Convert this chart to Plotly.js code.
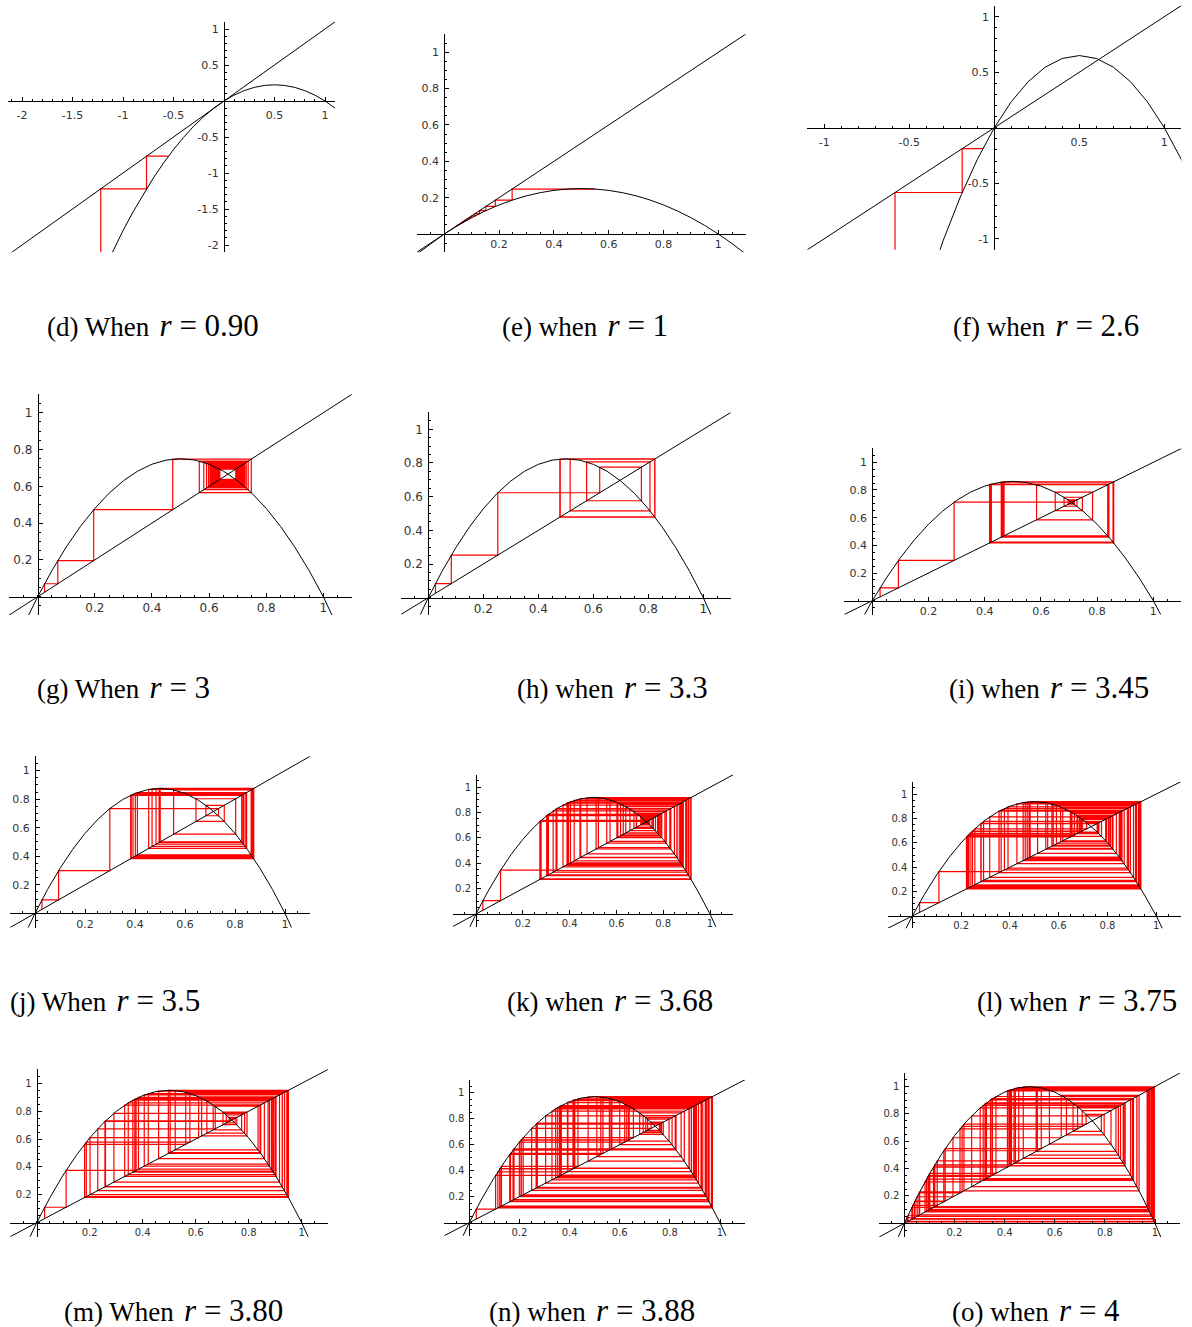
<!DOCTYPE html>
<html>
<head>
<meta charset="utf-8">
<script src="https://cdn.plot.ly/plotly-3.0.1.min.js"></script>
<style>
  html, body { margin: 0; padding: 0; background: #fff; }
  #chart { width: 1192px; height: 1327px; }
</style>
</head>
<body>
<div id="chart"></div>
<script>
// ─────────────────────────────
// DATOS
// ─────────────────────────────
const captionLetters = ['d', 'e', 'f', 'g', 'h', 'i', 'j', 'k', 'l', 'm', 'n', 'o'];
const captionWords = ['When', 'when', 'when', 'When', 'when', 'when', 'When', 'when', 'when', 'When', 'when', 'when'];
const rLabels = ['0.90', '1', '2.6', '3', '3.3', '3.45', '3.5', '3.68', '3.75', '3.80', '3.88', '4'];

// tick labels
const ticksWide = [-2, -1.5, -1, -0.5, 0.5, 1];
const ticksWideText = ['-2', '-1.5', '-1', '-0.5', '0.5', '1'];
const ticksMid = [-1, -0.5, 0.5, 1];
const ticksMidText = ['-1', '-0.5', '0.5', '1'];
const ticksUnit = [0.2, 0.4, 0.6, 0.8, 1];
const ticksUnitText = ['0.2', '0.4', '0.6', '0.8', '1'];

// the line y = x
const diagonal = [-3, 3];

// parabola samples
const gridD = [-1.2, -1.1, -1, -0.9, -0.8, -0.7, -0.6, -0.5, -0.4, -0.3, -0.2, -0.1, 0,
  0.1, 0.2, 0.3, 0.4, 0.5, 0.6, 0.7, 0.8, 0.9, 1, 1.1, 1.2];
const curveD = [-2.376, -2.079, -1.8, -1.539, -1.296, -1.071, -0.864, -0.675, -0.504, -0.351, -0.216, -0.099, 0,
  0.081, 0.144, 0.189, 0.216, 0.225, 0.216, 0.189, 0.144, 0.081, 0, -0.099, -0.216];

const gridF = [-0.4, -0.3, -0.2, -0.1, 0, 0.1, 0.2, 0.3, 0.4, 0.5, 0.6, 0.7, 0.8, 0.9, 1, 1.1, 1.2];
const curveF = [-1.456, -1.014, -0.624, -0.286, 0, 0.234, 0.416, 0.546, 0.624, 0.65, 0.624, 0.546, 0.416, 0.234, 0, -0.286, -0.624];

const gridUnit = [-0.1, -0.05, 0, 0.05, 0.1, 0.15, 0.2, 0.25, 0.3, 0.35, 0.4, 0.45, 0.5,
  0.55, 0.6, 0.65, 0.7, 0.75, 0.8, 0.85, 0.9, 0.95, 1, 1.05, 1.1];
const curveE = [-0.11, -0.0525, 0, 0.0475, 0.09, 0.1275, 0.16, 0.1875, 0.21, 0.2275, 0.24, 0.2475, 0.25,
  0.2475, 0.24, 0.2275, 0.21, 0.1875, 0.16, 0.1275, 0.09, 0.0475, 0, -0.0525, -0.11];
const curveG = [-0.33, -0.1575, 0, 0.1425, 0.27, 0.3825, 0.48, 0.5625, 0.63, 0.6825, 0.72, 0.7425, 0.75,
  0.7425, 0.72, 0.6825, 0.63, 0.5625, 0.48, 0.3825, 0.27, 0.1425, 0, -0.1575, -0.33];
const curveH = [-0.363, -0.1733, 0, 0.1568, 0.297, 0.4208, 0.528, 0.6188, 0.693, 0.7508, 0.792, 0.8168, 0.825,
  0.8168, 0.792, 0.7508, 0.693, 0.6188, 0.528, 0.4208, 0.297, 0.1568, 0, -0.1733, -0.363];
const curveI = [-0.3795, -0.1811, 0, 0.1639, 0.3105, 0.4399, 0.552, 0.6469, 0.7245, 0.7849, 0.828, 0.8539, 0.8625,
  0.8539, 0.828, 0.7849, 0.7245, 0.6469, 0.552, 0.4399, 0.3105, 0.1639, 0, -0.1811, -0.3795];
const curveJ = [-0.385, -0.1838, 0, 0.1663, 0.315, 0.4463, 0.56, 0.6563, 0.735, 0.7963, 0.84, 0.8663, 0.875,
  0.8663, 0.84, 0.7963, 0.735, 0.6563, 0.56, 0.4463, 0.315, 0.1663, 0, -0.1838, -0.385];
const curveK = [-0.4048, -0.1932, 0, 0.1748, 0.3312, 0.4692, 0.5888, 0.69, 0.7728, 0.8372, 0.8832, 0.9108, 0.92,
  0.9108, 0.8832, 0.8372, 0.7728, 0.69, 0.5888, 0.4692, 0.3312, 0.1748, 0, -0.1932, -0.4048];
const curveL = [-0.4125, -0.1969, 0, 0.1781, 0.3375, 0.4781, 0.6, 0.7031, 0.7875, 0.8531, 0.9, 0.9281, 0.9375,
  0.9281, 0.9, 0.8531, 0.7875, 0.7031, 0.6, 0.4781, 0.3375, 0.1781, 0, -0.1969, -0.4125];
const curveM = [-0.418, -0.1995, 0, 0.1805, 0.342, 0.4845, 0.608, 0.7125, 0.798, 0.8645, 0.912, 0.9405, 0.95,
  0.9405, 0.912, 0.8645, 0.798, 0.7125, 0.608, 0.4845, 0.342, 0.1805, 0, -0.1995, -0.418];
const curveN = [-0.4268, -0.2037, 0, 0.1843, 0.3492, 0.4947, 0.6208, 0.7275, 0.8148, 0.8827, 0.9312, 0.9603, 0.97,
  0.9603, 0.9312, 0.8827, 0.8148, 0.7275, 0.6208, 0.4947, 0.3492, 0.1843, 0, -0.2037, -0.4268];
const curveO = [-0.44, -0.21, 0, 0.19, 0.36, 0.51, 0.64, 0.75, 0.84, 0.91, 0.96, 0.99, 1,
  0.99, 0.96, 0.91, 0.84, 0.75, 0.64, 0.51, 0.36, 0.19, 0, -0.21, -0.44];

// iterates drawn in red
const orbitD = [-0.55, -0.767, -1.2198, -2.437];
const orbitE = [0.55, 0.2475, 0.1862, 0.1515, 0.1285, 0.112, 0.0995, 0.0896, 0.0816, 0.0749, 0.0693,
  0.0645, 0.0603, 0.0567, 0.0535, 0.0506, 0.048, 0.0457, 0.0436, 0.0417, 0.04];
const orbitF = [-0.068, -0.189, -0.584, -2.405];
const orbitG = [0.024, 0.0703, 0.196, 0.4728, 0.7478, 0.5659, 0.737, 0.5816, 0.7301, 0.5912, 0.7251,
  0.5981, 0.7212, 0.6033, 0.718, 0.6075, 0.7154, 0.6109, 0.7132, 0.6137, 0.7113, 0.6161, 0.7096,
  0.6183, 0.7081, 0.6202, 0.7067, 0.6219, 0.7055, 0.6234, 0.7044, 0.6247, 0.7034, 0.626, 0.7024,
  0.6272, 0.7015, 0.6283, 0.7007, 0.6292, 0.7, 0.6301, 0.6993, 0.6309, 0.6987, 0.6316, 0.6981,
  0.6323, 0.6975, 0.6331, 0.6969, 0.6338, 0.6964, 0.6344, 0.6959, 0.6349, 0.6955, 0.6354, 0.6951,
  0.6359, 0.6947, 0.6363, 0.6943, 0.6368, 0.6939, 0.6373, 0.6935, 0.6377, 0.6932];
const orbitH = [0.026, 0.0836, 0.2527, 0.6233, 0.7749, 0.5757, 0.8061, 0.5158, 0.8242, 0.4782, 0.8234,
  0.4798, 0.8237, 0.4793, 0.8236, 0.4794, 0.8236, 0.4794, 0.8236, 0.4794, 0.8236, 0.4794, 0.8236];
const orbitI = [0.0277, 0.093, 0.2911, 0.7121, 0.7072, 0.7143, 0.704, 0.7189, 0.6972, 0.7284, 0.6825,
  0.7476, 0.651, 0.7838, 0.5846, 0.8378, 0.4689, 0.8592, 0.4175, 0.839, 0.466, 0.8585, 0.4191,
  0.8399, 0.464, 0.858, 0.4203, 0.8406, 0.4623, 0.8576, 0.4213, 0.8412, 0.461, 0.8572, 0.4222,
  0.8416, 0.4599, 0.857, 0.4229, 0.842, 0.4589, 0.8567, 0.4236, 0.8424];
const orbitJ = [0.0277, 0.0944, 0.2992, 0.7339, 0.6836, 0.757, 0.6438, 0.8026, 0.5545, 0.8646, 0.4097,
  0.8465, 0.4548, 0.8679, 0.4013, 0.8409, 0.4683, 0.8715, 0.392, 0.8342, 0.4841, 0.8741, 0.3852,
  0.8289, 0.4964, 0.875, 0.3828, 0.8269, 0.5009, 0.875, 0.3828, 0.8269, 0.5009, 0.875];
const orbitK = [0.0294, 0.105, 0.3458, 0.8325, 0.5132, 0.9194, 0.2728, 0.73, 0.7253, 0.7333, 0.7197,
  0.7423, 0.7039, 0.767, 0.6577, 0.8285, 0.5229, 0.9181, 0.2769, 0.7368, 0.7137, 0.7519, 0.6864,
  0.7921, 0.6061, 0.8786, 0.3925, 0.8775, 0.3956, 0.8799, 0.3888, 0.8745, 0.4038, 0.886, 0.3718,
  0.8595, 0.4443, 0.9086, 0.3057, 0.781, 0.6294, 0.8584, 0.4473, 0.9098, 0.3021, 0.7759, 0.64,
  0.8479, 0.4746, 0.9176, 0.2782, 0.739, 0.7098, 0.758, 0.6751, 0.8072, 0.5728, 0.9005, 0.3297,
  0.8133, 0.5587, 0.9073, 0.3095, 0.7865, 0.618, 0.8687, 0.4197, 0.8962, 0.3422, 0.8284, 0.5231,
  0.918, 0.277, 0.737, 0.7133, 0.7526, 0.6851, 0.7939, 0.6022, 0.8815, 0.3843];
const orbitL = [0.03, 0.109, 0.3642, 0.8684, 0.4287, 0.9184, 0.281, 0.7576, 0.6886, 0.8042, 0.5906,
  0.9067, 0.3172, 0.8122, 0.5721, 0.918, 0.2823, 0.7597, 0.6846, 0.8098, 0.5777, 0.9149, 0.2921,
  0.7755, 0.653, 0.8497, 0.4788, 0.9358, 0.2252, 0.6544, 0.8481, 0.4831, 0.9364, 0.2233, 0.6503,
  0.8527, 0.4709, 0.9343, 0.2301, 0.6643, 0.8363, 0.5135, 0.9368, 0.222, 0.6476, 0.8558, 0.4628,
  0.9323, 0.2367, 0.6774, 0.8194, 0.5548, 0.9262, 0.2563, 0.7147, 0.7646, 0.675, 0.8227, 0.547,
  0.9292, 0.2466, 0.6967, 0.7925, 0.6167, 0.8864, 0.3776, 0.8813, 0.3923, 0.894, 0.3553, 0.8589,
  0.4544, 0.9297, 0.2451, 0.6939, 0.7965, 0.6079, 0.8939, 0.3557, 0.8594, 0.453];
const orbitM = [0.0301, 0.111, 0.375, 0.8906, 0.3702, 0.8859, 0.384, 0.8989, 0.3454, 0.8591, 0.4599,
  0.9439, 0.2013, 0.6109, 0.9033, 0.332, 0.8428, 0.5035, 0.95, 0.1807, 0.5624, 0.9352, 0.2304,
  0.6737, 0.8354, 0.5227, 0.9481, 0.1871, 0.578, 0.9269, 0.2575, 0.7265, 0.755, 0.7029, 0.7936,
  0.6224, 0.8931, 0.3628, 0.8784, 0.4059, 0.9163, 0.2914, 0.7846, 0.6422, 0.8731, 0.4209, 0.9263,
  0.2596, 0.7304, 0.7484, 0.7156, 0.7734, 0.666, 0.8454, 0.4968, 0.95];
const orbitN = [0.0278, 0.105, 0.3646, 0.8989, 0.3527, 0.8858, 0.3926, 0.9252, 0.2684, 0.7619, 0.7038,
  0.8088, 0.6, 0.9312, 0.2487, 0.725, 0.7736, 0.6796, 0.8449, 0.5086, 0.9697, 0.1139, 0.3916,
  0.9244, 0.2713, 0.767, 0.6935, 0.8248, 0.5608, 0.9557, 0.1644, 0.5329, 0.9658, 0.1281, 0.4334,
  0.9528, 0.1745, 0.5588, 0.9566, 0.1612, 0.5245, 0.9677, 0.1214, 0.4138, 0.9412, 0.2149, 0.6546,
  0.8773, 0.4176, 0.9437, 0.2063, 0.6354, 0.899, 0.3525, 0.8855, 0.3933, 0.9259, 0.2664, 0.7582,
  0.7113, 0.7968, 0.6282, 0.9062, 0.3298, 0.8576, 0.4739, 0.9674, 0.1225, 0.4171, 0.9434, 0.2074,
  0.6377, 0.8964, 0.3602, 0.8942, 0.3671, 0.9015, 0.3446, 0.8763, 0.4207, 0.9456, 0.1996, 0.62,
  0.9142, 0.3044, 0.8216, 0.5686, 0.9517, 0.1783, 0.5683, 0.9519, 0.1777, 0.567, 0.9526, 0.1753,
  0.5608, 0.9556, 0.1645, 0.5332, 0.9657, 0.1284];
const orbitO = [0.03, 0.1164, 0.4114, 0.9686, 0.1217, 0.4274, 0.9789, 0.0825, 0.3027, 0.8443, 0.526,
  0.9973, 0.0108, 0.0426, 0.1632, 0.5463, 0.9914, 0.034, 0.1313, 0.4564, 0.9924, 0.0302, 0.117,
  0.4134, 0.97, 0.1165, 0.4117, 0.9688, 0.1208, 0.4247, 0.9773, 0.0887, 0.3232, 0.875, 0.4376,
  0.9844, 0.0614, 0.2305, 0.7095, 0.8245, 0.5788, 0.9752, 0.0969, 0.35, 0.91, 0.3276, 0.8811,
  0.4192, 0.9739, 0.1017, 0.3655, 0.9276, 0.2686, 0.7859, 0.6731, 0.8801, 0.422, 0.9757, 0.095,
  0.344, 0.9027, 0.3515, 0.9117, 0.3219, 0.8731, 0.4431, 0.987, 0.0512, 0.1942, 0.626, 0.9365,
  0.2379, 0.7252, 0.7972, 0.6467, 0.914, 0.3146, 0.8625, 0.4745, 0.9974, 0.0104, 0.0411, 0.1575,
  0.5307, 0.9962, 0.015, 0.059, 0.2222, 0.6912, 0.8538, 0.4994];


// ─────────────────────────────
// PANELES (geometría en px de la página)
// ─────────────────────────────
const W = 1192, H = 1327;
const unitRange = [-0.1, 1.1];

const panels = [
  { orbit: orbitD, gx: gridD, gy: curveD, diag0: false, tv: ticksWide, tt: ticksWideText, minor: 0.1,
    x0: 224, xs: 101, y0: 101, ys: 72, xr: [-2.14, 1.1], yr: [-2.1, 1.1], fs: 11, xso: 4, cap: [45, 326] },
  { orbit: orbitE, gx: gridUnit, gy: curveE, diag0: false, tv: ticksUnit, tt: ticksUnitText, minor: 0.05,
    x0: 444.3, xs: 274, y0: 234, ys: 181.7, xr: unitRange, yr: unitRange, fs: 11, xso: 0, cap: [500, 326] },
  { orbit: orbitF, gx: gridF, gy: curveF, diag0: false, tv: ticksMid, tt: ticksMidText, minor: 0.1,
    x0: 994.3, xs: 170, y0: 127.7, ys: 111, xr: [-1.1, 1.1], yr: [-1.1, 1.1], fs: 11, xso: 4, cap: [951, 326] },
  { orbit: orbitG, gx: gridUnit, gy: curveG, diag0: true, tv: ticksUnit, tt: ticksUnitText, minor: 0.05,
    x0: 37.7, xs: 285.6, y0: 596.7, ys: 184, xr: unitRange, yr: unitRange, fs: 12, xso: 0, cap: [35, 687] },
  { orbit: orbitH, gx: gridUnit, gy: curveH, diag0: true, tv: ticksUnit, tt: ticksUnitText, minor: 0.05,
    x0: 428.3, xs: 275, y0: 597.7, ys: 168.4, xr: unitRange, yr: unitRange, fs: 12, xso: 0, cap: [515, 687] },
  { orbit: orbitI, gx: gridUnit, gy: curveI, diag0: true, tv: ticksUnit, tt: ticksUnitText, minor: 0.05,
    x0: 872.3, xs: 281, y0: 600.7, ys: 138.4, xr: unitRange, yr: unitRange, fs: 11, xso: 0, cap: [947, 687] },
  { orbit: orbitJ, gx: gridUnit, gy: curveJ, diag0: true, tv: ticksUnit, tt: ticksUnitText, minor: 0.05,
    x0: 35, xs: 250, y0: 913.3, ys: 142.7, xr: unitRange, yr: unitRange, fs: 11, xso: 0, cap: [8, 1000] },
  { orbit: orbitK, gx: gridUnit, gy: curveK, diag0: true, tv: ticksUnit, tt: ticksUnitText, minor: 0.05,
    x0: 476, xs: 234, y0: 914, ys: 126.7, xr: unitRange, yr: unitRange, fs: 10, xso: 0, cap: [505, 1000] },
  { orbit: orbitL, gx: gridUnit, gy: curveL, diag0: true, tv: ticksUnit, tt: ticksUnitText, minor: 0.05,
    x0: 912.3, xs: 244, y0: 916, ys: 122, xr: unitRange, yr: unitRange, fs: 10, xso: 0, cap: [975, 1000] },
  { orbit: orbitM, gx: gridUnit, gy: curveM, diag0: true, tv: ticksUnit, tt: ticksUnitText, minor: 0.05,
    x0: 36.7, xs: 265, y0: 1222.7, ys: 139.4, xr: unitRange, yr: unitRange, fs: 10, xso: 0, cap: [62, 1310] },
  { orbit: orbitN, gx: gridUnit, gy: curveN, diag0: true, tv: ticksUnit, tt: ticksUnitText, minor: 0.05,
    x0: 469.3, xs: 250.7, y0: 1222.7, ys: 130, xr: unitRange, yr: unitRange, fs: 10, xso: 0, cap: [487, 1310] },
  { orbit: orbitO, gx: gridUnit, gy: curveO, diag0: true, tv: ticksUnit, tt: ticksUnitText, minor: 0.05,
    x0: 904.3, xs: 250.7, y0: 1223.3, ys: 136.7, xr: unitRange, yr: unitRange, fs: 10, xso: 0, cap: [950, 1310] }
];


// cobweb: (x0,x1) -> (x1,x1) -> (x1,x2) -> ...
function cobweb(orbit, startOnDiagonal) {
  const xs = [], ys = [];
  if (startOnDiagonal) { xs.push(orbit[0]); ys.push(orbit[0]); }
  for (let i = 0; i < orbit.length - 1; i++) {
    xs.push(orbit[i], orbit[i + 1]);
    ys.push(orbit[i + 1], orbit[i + 1]);
  }
  return { xs, ys };
}

function axisBase(p) {
  return {
    showline: true, linecolor: 'black', linewidth: 1,
    showgrid: false, zeroline: false, fixedrange: true,
    tickmode: 'array', tickvals: p.tv, ticktext: p.tt,
    ticks: 'inside', ticklen: 4, tickwidth: 1, tickcolor: 'black',
    minor: { tickmode: 'linear', tick0: 0, dtick: p.minor, ticks: 'inside', ticklen: 2, tickwidth: 1, tickcolor: 'black' },
    tickfont: { family: 'DejaVu Sans', size: p.fs, color: '#333' }
  };
}

const traces = [];
const layout = {
  width: W, height: H,
  margin: { l: 0, r: 0, t: 0, b: 0 },
  paper_bgcolor: 'white', plot_bgcolor: 'rgba(0,0,0,0)',
  showlegend: false,
  annotations: []
};

panels.forEach((p, idx) => {
  const n = idx + 1;
  const sfx = n === 1 ? '' : String(n);

  // ───────── ejes ─────────
  layout['xaxis' + sfx] = Object.assign(axisBase(p), {
    domain: [(p.x0 + p.xr[0] * p.xs) / W, (p.x0 + p.xr[1] * p.xs) / W],
    range: p.xr,
    anchor: 'free',
    position: 1 - p.y0 / H,
    side: 'bottom',
    ticklabelstandoff: p.xso
  });
  layout['yaxis' + sfx] = Object.assign(axisBase(p), {
    domain: [1 - (p.y0 - p.yr[0] * p.ys) / H, 1 - (p.y0 - p.yr[1] * p.ys) / H],
    range: p.yr,
    anchor: 'free',
    position: p.x0 / W,
    side: 'left',
    ticklabelstandoff: 3
  });

  // ───────── marcas ─────────
  const web = cobweb(p.orbit, p.diag0);
  const common = { xaxis: 'x' + sfx, yaxis: 'y' + sfx, type: 'scatter', mode: 'lines', hoverinfo: 'skip' };
  traces.push(Object.assign({ x: web.xs, y: web.ys, line: { color: '#ff0000', width: 1.2 } }, common));
  traces.push(Object.assign({ x: p.gx, y: p.gy, line: { color: 'black', width: 1 } }, common));
  traces.push(Object.assign({ x: diagonal, y: diagonal, line: { color: 'black', width: 1 } }, common));

  // ───────── leyenda de cada panel ─────────
  layout.annotations.push({
    xref: 'paper', yref: 'paper',
    x: p.cap[0] / W, y: 1 - p.cap[1] / H,
    xanchor: 'left', yanchor: 'middle', showarrow: false,
    font: { family: 'Liberation Serif', size: 27, color: 'black' },
    text: `(${captionLetters[idx]}) ${captionWords[idx]}<span style="font-size:31px">\u2004<i>r</i> = ${rLabels[idx]}</span>`
  });
});

Plotly.newPlot('chart', traces, layout, { staticPlot: true });
</script>
</body>
</html>
